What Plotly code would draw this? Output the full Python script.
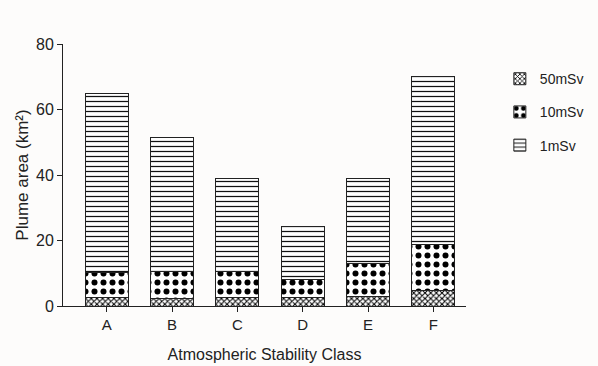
import plotly.graph_objects as go

categories = ["A", "B", "C", "D", "E", "F"]
dose_50 = [2.5, 2.2, 2.7, 2.7, 3.0, 4.6]
dose_10 = [7.6, 8.2, 7.7, 5.5, 10.1, 14.3]
dose_1 = [54.9, 41.2, 28.4, 16.2, 25.7, 51.3]
series_names = ["50mSv", "10mSv", "1mSv"]

patterns = [
    dict(shape="x", size=4, solidity=0.45, fgcolor="#000", bgcolor="white", fgopacity=1),
    dict(shape=".", size=9, solidity=0.35, fgcolor="#000", bgcolor="white", fgopacity=1),
    dict(shape="-", size=5, solidity=0.25, fgcolor="#111", bgcolor="white", fgopacity=1),
]

fig = go.Figure()
for i, (name, vals) in enumerate(zip(series_names, [dose_50, dose_10, dose_1])):
    fig.add_trace(go.Bar(
        x=categories, y=vals, name=name, legendgroup=name,
        width=0.66,
        marker=dict(color="white", pattern=patterns[i],
                    line=dict(color="#222", width=1)),
    ))

fnt = "Liberation Sans, Arial, sans-serif"
fig.update_layout(
    barmode="stack",
    width=598, height=366,
    margin=dict(l=63, r=132, t=44, b=60, autoexpand=False),
    paper_bgcolor="#fdfcfb", plot_bgcolor="#fdfcfb",
    font=dict(family=fnt, size=15, color="#222"),
    showlegend=True,
    legend=dict(x=1.084, y=0.927, xanchor="left", yanchor="top",
                traceorder="grouped", tracegroupgap=12,
                font=dict(size=14, family=fnt), bgcolor="rgba(0,0,0,0)"),
    xaxis=dict(range=[-0.67, 5.5], showline=True, linecolor="#222", linewidth=1,
               ticks="outside", ticklen=5, tickcolor="#222", automargin=False,
               title=dict(text="Atmospheric Stability Class", standoff=16,
                          font=dict(size=16)),
               tickfont=dict(size=15), showgrid=False, zeroline=False),
    yaxis=dict(range=[0, 80], showline=True, linecolor="#222", linewidth=1,
               ticks="outside", ticklen=5, tickcolor="#222", automargin=False,
               tickvals=[0, 20, 40, 60, 80],
               title=dict(text="Plume area (km²)", standoff=3,
                          font=dict(size=17)),
               tickfont=dict(size=16), showgrid=False, zeroline=False),
)

fig.write_html("out.html")
